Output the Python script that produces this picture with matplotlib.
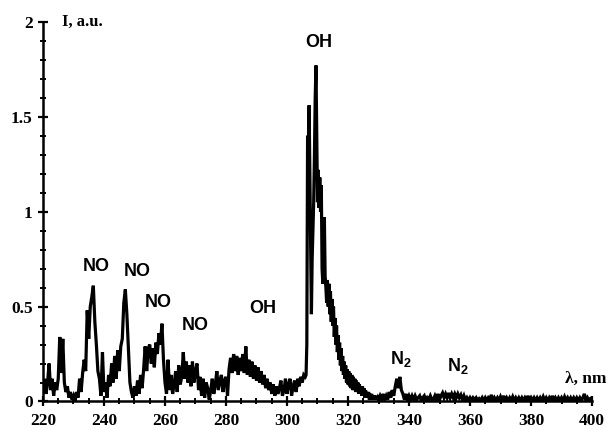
import numpy as np
import matplotlib
matplotlib.use("Agg")
import matplotlib.pyplot as plt
from matplotlib.ticker import MultipleLocator

plt.rcParams["mathtext.default"] = "regular"

# ---- data ----
# segment A: 220.0 .. 306.0 nm, 0.5 nm step
int_a = [
    0.08, 0.12, 0.04, 0.10, 0.20, 0.06, 0.12, 0.03, 0.10, 0.06,   # 220-224.5
    0.12, 0.34, 0.15, 0.33, 0.10, 0.05, 0.08, 0.02, 0.05, 0.01,   # 225-229.5
    0.03, 0.00, 0.05, 0.02, 0.12, 0.05, 0.15, 0.22, 0.16, 0.48,   # 230-234.5
    0.33, 0.50, 0.55, 0.61, 0.42, 0.30, 0.16, 0.12, 0.03, 0.26,   # 235-239.5
    0.05, 0.10, 0.02, 0.14, 0.08, 0.20, 0.10, 0.24, 0.12, 0.27,   # 240-244.5
    0.16, 0.29, 0.33, 0.52, 0.59, 0.46, 0.28, 0.10, 0.05, 0.02,   # 245-249.5
    0.08, 0.03, 0.11, 0.04, 0.14, 0.07, 0.17, 0.29, 0.16, 0.28,   # 250-254.5
    0.30, 0.20, 0.28, 0.18, 0.31, 0.25, 0.36, 0.30, 0.41, 0.22,   # 255-259.5
    0.10, 0.04, 0.22, 0.06, 0.14, 0.04, 0.09, 0.16, 0.05, 0.19,   # 260-264.5
    0.09, 0.13, 0.26, 0.12, 0.21, 0.10, 0.19, 0.08, 0.21, 0.10,   # 265-269.5
    0.16, 0.20, 0.06, 0.13, 0.03, 0.12, 0.02, 0.10, 0.07, 0.01,   # 270-274.5
    0.06, 0.12, 0.04, 0.09, 0.16, 0.06, 0.11, 0.14, 0.05, 0.11,   # 275-279.5
    0.13, 0.03, 0.17, 0.23, 0.15, 0.25, 0.16, 0.24, 0.14, 0.23,   # 280-284.5
    0.16, 0.25, 0.15, 0.29, 0.14, 0.22, 0.13, 0.21, 0.12, 0.19,   # 285-289.5
    0.11, 0.18, 0.10, 0.16, 0.09, 0.14, 0.07, 0.12, 0.06, 0.10,   # 290-294.5
    0.04, 0.09, 0.03, 0.08, 0.04, 0.07, 0.11, 0.03, 0.06, 0.12,   # 295-299.5
    0.04, 0.09, 0.12, 0.03, 0.08, 0.11, 0.05, 0.12, 0.08, 0.13,   # 300-304.5
    0.10, 0.14, 0.13,                                             # 305-306
]
# segment B: 306.25 .. 330 nm, 0.25 nm step (OH band)
int_b = [
    0.14, 0.30, 1.40, 1.30, 1.56, 1.20, 0.80, 0.46, 0.75, 0.90,
    1.05, 1.30, 1.60, 1.77, 1.40, 1.05, 1.22, 1.02, 1.18, 1.00,
    1.14, 0.70, 0.62, 0.82, 0.97, 0.66, 0.60, 0.52, 0.64, 0.50,
    0.62, 0.46, 0.58, 0.42, 0.54, 0.40, 0.50, 0.34, 0.44, 0.30,
    0.40, 0.26, 0.35, 0.22, 0.31, 0.19, 0.28, 0.16, 0.24, 0.14,
    0.21, 0.12, 0.19, 0.10, 0.17, 0.09, 0.16, 0.08, 0.15, 0.07,
    0.14, 0.06, 0.13, 0.06, 0.12, 0.05, 0.11, 0.05, 0.10, 0.04,
    0.09, 0.04, 0.08, 0.03, 0.08, 0.03, 0.07, 0.02, 0.06, 0.02,
    0.05, 0.02, 0.05, 0.01, 0.04, 0.01, 0.04, 0.01, 0.03, 0.01,
    0.03, 0.01, 0.03, 0.01, 0.02, 0.01,
]
# segment C: 330.5 .. 400 nm, 0.5 nm step
int_c = [
    0.03, 0.01, 0.04, 0.01, 0.03, 0.01, 0.05, 0.02, 0.06, 0.03,   # 330.5-335
    0.08, 0.12, 0.07, 0.13, 0.06, 0.04, 0.01, 0.04, 0.01, 0.03,   # 335.5-340
    0.01, 0.03, 0.01, 0.03, 0.01, 0.02, 0.03, 0.005, 0.02, 0.03,  # 340.5-345
    0.005, 0.02, 0.01, 0.03, 0.01, 0.01, 0.03, 0.01, 0.04, 0.01,  # 345.5-350
    0.03, 0.045, 0.02, 0.04, 0.02, 0.045, 0.02, 0.04, 0.02, 0.04, # 350.5-355
    0.02, 0.04, 0.02, 0.035, 0.01, 0.03, 0.005, 0.02, 0.005, 0.02,# 355.5-360
    0.005, 0.02, 0.01, 0.02, 0.005, 0.015, 0.005, 0.02, 0.005, 0.02,# 360.5-365
    0.005, 0.02, 0.01, 0.035, 0.005, 0.02, 0.005, 0.02, 0.005, 0.025,# 365.5-370
    0.005, 0.03, 0.005, 0.02, 0.005, 0.02, 0.005, 0.025, 0.005, 0.02,# 370.5-375
    0.005, 0.02, 0.005, 0.02, 0.005, 0.02, 0.005, 0.03, 0.005, 0.02,# 375.5-380
    0.005, 0.02, 0.005, 0.02, 0.005, 0.02, 0.005, 0.025, 0.005, 0.02,# 380.5-385
    0.005, 0.02, 0.005, 0.03, 0.005, 0.02, 0.005, 0.02, 0.005, 0.02,# 385.5-390
    0.005, 0.025, 0.005, 0.02, 0.005, 0.02, 0.005, 0.02, 0.005, 0.02,# 390.5-395
    0.005, 0.02, 0.005, 0.02, 0.04, 0.005, 0.02, 0.005, 0.015,    # 395.5-400
]
wl_a = 220.0 + 0.5 * np.arange(len(int_a))
wl_b = 306.25 + 0.25 * np.arange(len(int_b))
wl_c = 330.5 + 0.5 * np.arange(len(int_c))
wavelength = np.concatenate([wl_a, wl_b, wl_c])
intensity = np.concatenate([int_a, int_b, int_c])

labels = ["NO", "NO", "NO", "NO", "OH", "OH", r"N$_\mathregular{2}$", r"N$_\mathregular{2}$"]
label_x = [237.4, 250.8, 257.7, 269.8, 292.1, 310.5, 337.3, 356.0]
label_y = [0.71, 0.685, 0.52, 0.40, 0.49, 1.89, 0.225, 0.185]

x_ticks = [220, 240, 260, 280, 300, 320, 340, 360, 380, 400]
y_ticks = [0, 0.5, 1, 1.5, 2]
y_tick_labels = ["0", "0.5", "1", "1.5", "2"]

# ---- plot ----
fig = plt.figure(figsize=(6.08, 4.30), dpi=100)
ax = fig.add_axes([0.0707, 0.0663, 0.903, 0.883])
ax.plot(wavelength, intensity, color="black", lw=2.3, solid_joinstyle="miter")

ax.set_xlim(220, 400)
ax.set_ylim(0, 2)
ax.set_xticks(x_ticks)
ax.set_yticks(y_ticks)
ax.set_yticklabels(y_tick_labels)
ax.xaxis.set_minor_locator(MultipleLocator(5))
ax.yaxis.set_minor_locator(MultipleLocator(0.1))

for s in ["top", "right"]:
    ax.spines[s].set_visible(False)
for s in ["left", "bottom"]:
    ax.spines[s].set_linewidth(1.8)

ax.tick_params(which="major", direction="inout", length=7, width=1.6,
               labelsize=12.5)
ax.tick_params(axis="x", which="major", pad=4.5)
ax.tick_params(axis="y", which="major", pad=4)
ax.tick_params(which="minor", direction="inout", length=4, width=1.4)
for lab in ax.get_xticklabels() + ax.get_yticklabels():
    lab.set_fontfamily("Liberation Serif")
    lab.set_fontweight("bold")

for t, x, y in zip(labels, label_x, label_y):
    ax.text(x, y, t, ha="center", va="center", fontsize=13,
            fontweight="bold", family="Liberation Sans", color="black")

ax.text(226.2, 2.0, "I, a.u.", ha="left", va="center", fontsize=12,
        fontweight="bold", family="Liberation Serif", clip_on=False)
fig.text(0.997, (430 - 379) / 430, "λ, nm", ha="right", va="center",
         fontsize=12.5, fontweight="bold", family="Liberation Serif")

fig.savefig("out.png", dpi=100)
